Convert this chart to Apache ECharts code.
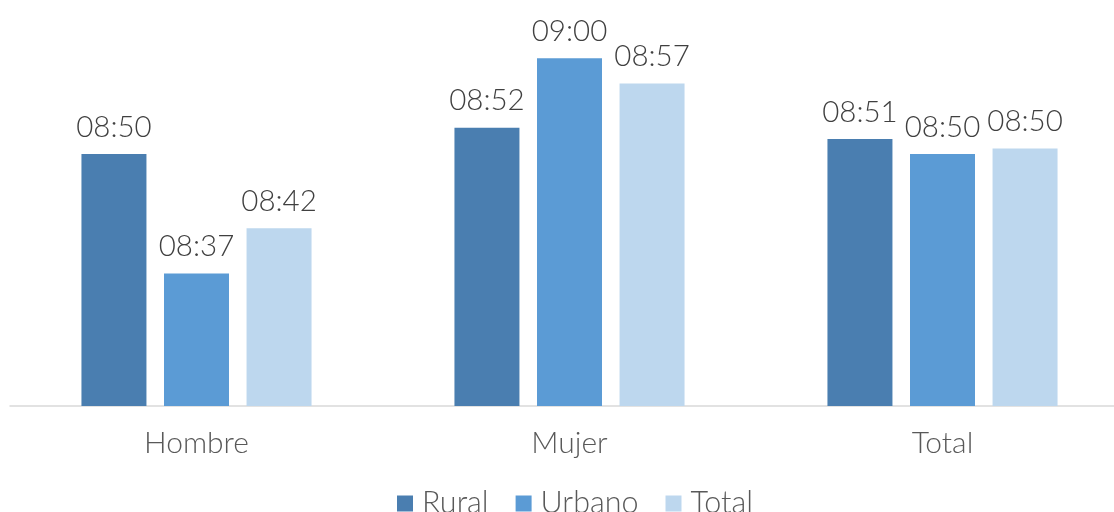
<!DOCTYPE html>
<html>
<head>
<meta charset="utf-8">
<script src="https://cdn.jsdelivr.net/npm/echarts@6/dist/echarts.min.js"></script>
<style>
  html, body { margin: 0; padding: 0; background: #fff; }
  #chart { width: 1114px; height: 512px; }
</style>
</head>
<body>
<div id="chart"></div>
<script>
// minutes after midnight (labels show hh:mm, truncated)
const categories = ['Hombre', 'Mujer', 'Total']
const seriesNames = ['Rural', 'Urbano', 'Total']
const rural = [530.1, 532.9, 531.7]
const urbano = [517.4, 540.3, 530.1]
const total = [522.2, 537.6, 530.7]
const colors = ['#4a7eb0', '#5b9bd5', '#bdd7ee']

const FONT = 'Lato, "Open Sans", sans-serif'

function hhmm(v) {
  const m = Math.floor(v)
  const h = Math.floor(m / 60)
  const mm = m % 60
  return String(h).padStart(2, '0') + ':' + String(mm).padStart(2, '0')
}

const chart = echarts.init(document.getElementById('chart'))

const seriesData = [rural, urbano, total]

chart.setOption({
  animation: false,
  textStyle: { fontFamily: FONT },
  color: colors,
  grid: { left: 10, width: 1119, top: 14, bottom: 106, containLabel: false, outerBoundsMode: 'none' },
  legend: {
    data: seriesNames,
    left: 397,
    top: 488,
    padding: 0,
    icon: 'rect',
    itemWidth: 16,
    itemHeight: 16,
    itemGap: 27,
    textStyle: { fontSize: 30.5, fontWeight: 300, color: '#595959', fontFamily: FONT, padding: [0, 0, 0, 4] }
  },
  xAxis: {
    type: 'category',
    data: categories,
    axisTick: { show: false },
    axisLine: { lineStyle: { color: '#d9d9d9', width: 1.5 } },
    axisLabel: { fontSize: 30, fontWeight: 300, color: '#595959', margin: 22, fontFamily: FONT }
  },
  yAxis: {
    type: 'value',
    min: 503.3,
    max: 545,
    show: false,
    splitLine: { show: false }
  },
  series: seriesNames.map((name, i) => ({
    name,
    type: 'bar',
    data: seriesData[i],
    barWidth: 65,
    barGap: '27%',
    itemStyle: { color: colors[i] },
    label: {
      show: true,
      position: 'top',
      distance: 12,
      fontSize: 29.5,
      fontWeight: 300,
      color: '#404040',
      fontFamily: FONT,
      formatter: p => hhmm(p.value)
    }
  }))
})
</script>
</body>
</html>
